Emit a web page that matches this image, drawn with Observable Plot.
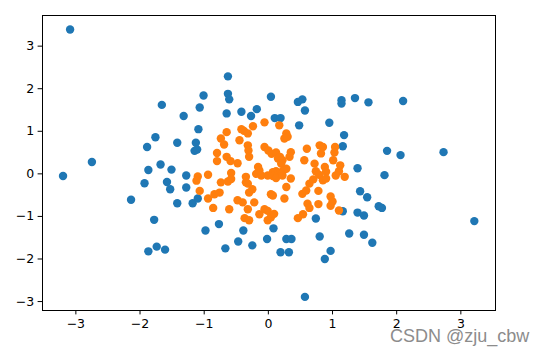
<!DOCTYPE html>
<html><head><meta charset="utf-8">
<script src="https://cdn.jsdelivr.net/npm/d3@7"></script>
<script src="https://cdn.jsdelivr.net/npm/@observablehq/plot@0.6"></script>
<style>
body{margin:0;background:#fff}
#wrap{position:relative;width:544px;height:354px;overflow:hidden}
#wm{position:absolute;left:390px;top:326.6px;font-family:"Liberation Sans",Arial,sans-serif;font-size:18px;line-height:18px;color:#8c8c8c;white-space:nowrap}
</style>
</head><body><div id="wrap"></div><script>
const blueX = [-3.09,-0.63,-0.63,-0.61,-1.01,-1.66,-1.07,-1.32,-0.65,-0.42,-0.27,-0.18,0.04,0.10,0.19,-1.09,-1.76,-1.89,-1.42,-1.13,-1.15,-1.11,-2.75,-1.87,-1.68,-1.51,-1.28,-3.20,
 0.46,0.53,0.57,1.14,1.14,1.35,1.56,2.10,0.48,0.95,1.18,1.16,1.85,2.06,2.73,1.39,1.81,1.43,1.54,1.72,1.77,1.16,1.39,1.49,0.74,0.08,1.26,1.49,1.62,0.80,0.28,0.36,0.19,0.32,0.97,0.88,3.21,0.57,
 -1.93,-1.58,-1.53,-1.28,-2.14,-1.42,-1.18,-1.10,-1.78,-0.98,-0.77,-0.39,-0.47,-0.67,-0.25,-0.02,-1.87,-1.74,-1.61];
const blueY = [3.39,2.29,1.88,1.75,1.84,1.62,1.56,1.36,1.42,1.46,1.36,1.52,1.81,1.31,1.31,1.05,0.86,0.63,0.73,0.73,0.54,0.57,0.28,0.09,0.22,0.10,-0.04,-0.05,
 1.69,1.75,1.49,1.73,1.65,1.78,1.68,1.71,1.14,1.20,0.91,0.65,0.54,0.44,0.51,0.13,-0.03,-0.41,-0.55,-0.76,-0.80,-0.88,-0.91,-0.98,-1.05,-1.28,-1.40,-1.43,-1.62,-1.47,-1.53,-1.53,-1.84,-1.84,-1.81,-2.00,-1.11,-2.89,
 -0.22,-0.19,-0.36,-0.32,-0.61,-0.69,-0.69,-0.58,-1.08,-1.33,-1.18,-1.33,-1.59,-1.75,-1.68,-1.53,-1.82,-1.71,-1.78];
const orangeX = [-0.06,-0.65,-0.42,-0.38,-0.24,-0.32,-0.45,-0.74,-0.69,-0.80,-0.80,-0.65,-0.59,-0.48,-0.32,-0.31,-0.30,-0.06,0.00,0.05,0.12,-0.16,-0.14,-0.58,-1.10,-0.94,-0.35,
 0.17,0.28,0.30,0.25,0.15,0.18,0.35,0.33,0.22,0.20,0.28,0.23,0.60,0.56,0.80,0.85,0.82,0.72,0.74,1.04,1.03,1.01,1.12,1.10,0.88,0.90,0.12,0.20,0.07,-0.19,-0.11,-0.01,0.07,
 -1.12,-1.07,-0.94,-0.84,-0.76,-0.86,-0.61,-0.74,-0.63,-0.58,-0.35,-0.30,-0.25,-0.32,-0.48,-0.40,-0.22,-0.32,-0.37,-0.30,-0.14,-0.06,-0.01,0.04,-0.01,0.04,
 0.12,0.22,0.35,0.28,0.07,0.25,0.53,0.59,0.64,0.70,0.79,0.78,0.97,1.00,0.97,0.61,0.64,0.54,0.46,0.78,0.09,1.10,1.05,1.19,0.85,0.90];
const orangeY = [1.21,0.98,1.05,1.01,1.12,0.95,0.79,0.83,0.69,0.49,0.30,0.40,0.30,0.25,0.67,0.55,0.40,0.63,0.55,0.47,0.50,0.16,0.08,0.02,-0.06,-0.02,-0.07,
 1.14,0.95,0.87,0.83,0.36,0.40,0.51,0.40,0.32,0.24,0.12,0.08,0.59,0.32,0.67,0.63,0.48,0.24,0.06,0.63,0.50,0.32,0.20,0.06,0.16,0.05,0.06,0.00,0.04,0.00,-0.04,-0.04,-0.05,
 -0.16,-0.40,-0.58,-0.48,-0.44,-0.80,-0.83,-0.20,-0.18,-0.12,-0.20,-0.44,-0.36,-0.23,-0.62,-0.67,-0.67,-0.83,-1.04,-1.09,-0.95,-0.83,-0.87,-1.02,-1.09,-0.48,
 -0.10,-0.04,-0.11,-0.31,-0.51,-0.58,-0.47,-0.39,-0.23,-0.13,-0.02,-0.40,-0.53,-0.65,-0.75,-0.70,-0.80,-0.95,-1.04,-0.71,-0.94,-0.86,-0.04,-0.07,-0.15,-0.11];
const xTicks = [-3,-2,-1,0,1,2,3];
const yTicks = [-3,-2,-1,0,1,2,3];
const watermark = "CSDN @zju_cbw";

const blue = blueX.map((x,i)=>({x, y: blueY[i]}));
const orange = orangeX.map((x,i)=>({x, y: orangeY[i]}));
const fmt = d => d < 0 ? "\u2212" + Math.abs(d) : String(d);

const chart = Plot.plot({
  width: 544, height: 354,
  marginLeft: 42, marginTop: 15, marginRight: 49, marginBottom: 44,
  x: {domain: [-3.52, 3.54], label: null},
  y: {domain: [-3.21, 3.72], label: null},
  style: {fontFamily: "DejaVu Sans", fontSize: "12.5px", background: "#fff", color: "#000"},
  marks: [
    Plot.dot(blue, {x: "x", y: "y", r: 4.2, fill: "#1f77b4"}),
    Plot.dot(orange, {x: "x", y: "y", r: 4.2, fill: "#ff7f0e"}),
    Plot.frame({stroke: "#000", strokeWidth: 1}),
    Plot.axisX({ticks: xTicks, tickFormat: fmt, tickSize: 4.4, tickPadding: 4, label: null}),
    Plot.axisY({ticks: yTicks, tickFormat: fmt, tickSize: 4.4, tickPadding: 4, label: null})
  ]
});
const wrap = document.getElementById("wrap");
wrap.appendChild(chart);
const wm = document.createElement("div");
wm.id = "wm"; wm.textContent = watermark;
wrap.appendChild(wm);
</script></body></html>
